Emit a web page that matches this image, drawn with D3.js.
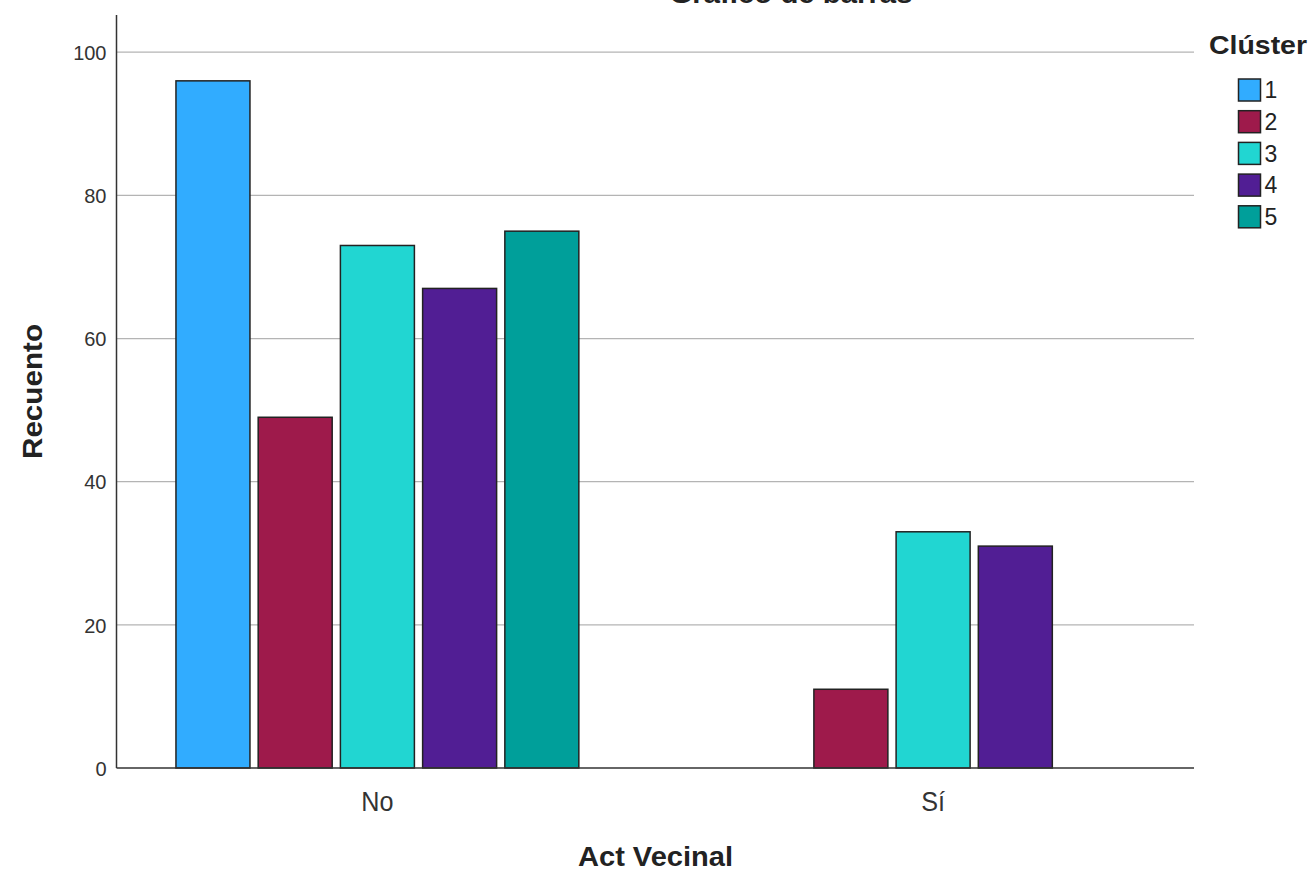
<!DOCTYPE html>
<html><head><meta charset="utf-8">
<script src="https://cdn.jsdelivr.net/npm/d3@7"></script>
<style>body{margin:0;background:#fff}svg{display:block}text{font-family:Arial,"Liberation Sans",sans-serif}</style>
</head><body>
<svg id="c" width="1316" height="871"></svg>
<script>
const groups = ["No", "Sí"];
const clusters = ["1", "2", "3", "4", "5"];
const valuesNo = [96, 49, 73, 67, 75];
const valuesSi = [0, 11, 33, 31, 0];
const colors = ["#31acff", "#9e1a4b", "#21d6d2", "#511e94", "#009f9a"];
const yTicks = [0, 20, 40, 60, 80, 100];

const seriesByGroup = {"No": valuesNo, "Sí": valuesSi};
const data = [];
groups.forEach(g => clusters.forEach((c, i) => {
  const v = seriesByGroup[g][i];
  if (v > 0) data.push({group: g, cluster: c, value: v, color: colors[i]});
}));

const svg = d3.select("#c");
const L = 116.5, R = 1194, T = 15, B = 768;

const x0 = d3.scaleBand().domain(groups).range([L, R]).paddingInner(0.275).paddingOuter(0.107);
const x1 = d3.scaleBand().domain(clusters).range([0, x0.bandwidth()]).paddingInner(0.1).paddingOuter(0);
const y = d3.scaleLinear().domain([0, 105.2]).range([B, T]);

// gridlines
svg.append("g").selectAll("line").data(yTicks.filter(d => d > 0)).join("line")
  .attr("x1", L).attr("x2", R).attr("y1", d => y(d)).attr("y2", d => y(d))
  .attr("stroke", "#b4b4b4").attr("stroke-width", 1.2);

// y axis
const yAxis = svg.append("g").attr("transform", `translate(${L},0)`)
  .call(d3.axisLeft(y).tickValues(yTicks).tickSize(0).tickPadding(10));
yAxis.select(".domain").remove();
yAxis.selectAll("text").attr("font-size", 20).attr("fill", "#333").attr("dy", "0.36em");

// bars
svg.append("g").selectAll("rect").data(data).join("rect")
  .attr("x", d => x0(d.group) + x1(d.cluster))
  .attr("width", x1.bandwidth())
  .attr("y", d => y(d.value))
  .attr("height", d => y(0) - y(d.value))
  .attr("fill", d => d.color)
  .attr("stroke", "#222").attr("stroke-width", 1.5);

// axis lines
svg.append("line").attr("x1", L).attr("x2", L).attr("y1", T).attr("y2", B).attr("stroke", "#333").attr("stroke-width", 1.5);
svg.append("line").attr("x1", L).attr("x2", R).attr("y1", B).attr("y2", B).attr("stroke", "#333").attr("stroke-width", 1.5);

// x axis labels
const xAxis = svg.append("g").attr("transform", `translate(0,${B})`)
  .call(d3.axisBottom(x0).tickSize(0).tickPadding(0));
xAxis.select(".domain").remove();
xAxis.selectAll("text").attr("font-size", 28).attr("fill", "#333").attr("y", 43).attr("dy", null)
  .attr("transform", function() { const xx = 0; return null; })
  .style("font-stretch", "condensed");
xAxis.selectAll(".tick text").each(function() {
  const t = d3.select(this);
  t.attr("transform", "scale(0.9,1)");
});

// titles
svg.append("text").attr("x", 791).attr("y", 3).attr("text-anchor", "middle")
  .attr("font-size", 28).attr("font-weight", "bold").attr("fill", "#222")
  .attr("textLength", 243).attr("lengthAdjust", "spacingAndGlyphs").text("Gráfico de barras");
svg.append("text").attr("x", 655.5).attr("y", 866).attr("text-anchor", "middle")
  .attr("font-size", 27).attr("font-weight", "bold").attr("fill", "#222")
  .attr("textLength", 155).attr("lengthAdjust", "spacingAndGlyphs").text("Act Vecinal");
svg.append("text").attr("transform", "translate(42,391.5) rotate(-90)").attr("text-anchor", "middle")
  .attr("font-size", 27).attr("font-weight", "bold").attr("fill", "#222")
  .attr("textLength", 135).attr("lengthAdjust", "spacingAndGlyphs").text("Recuento");

// legend
const lg = svg.append("g");
lg.append("text").attr("x", 1209).attr("y", 54).attr("font-size", 26).attr("font-weight", "bold").attr("fill", "#222")
  .attr("textLength", 98).attr("lengthAdjust", "spacingAndGlyphs").text("Clúster");
const items = lg.selectAll("g.item").data(clusters).join("g").attr("class", "item")
  .attr("transform", (d, i) => `translate(1238.5,${79 + i * 31.7})`);
items.append("rect").attr("width", 22).attr("height", 22)
  .attr("fill", (d, i) => colors[i]).attr("stroke", "#222").attr("stroke-width", 1.5);
items.append("text").attr("x", 26).attr("y", 11).attr("dy", "0.36em").attr("font-size", 23).attr("fill", "#222").text(d => d);
</script>
</body></html>
